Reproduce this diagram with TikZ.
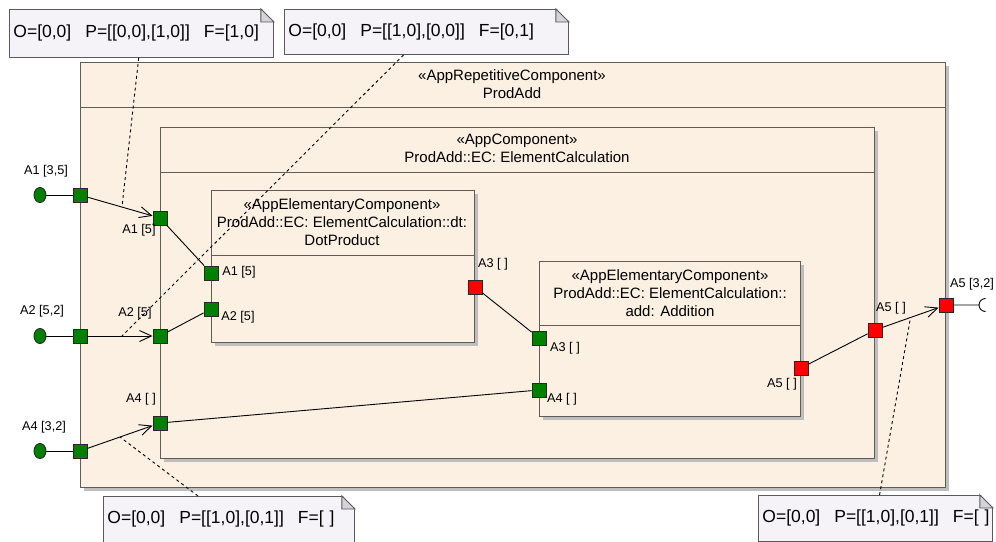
\documentclass[tikz,border=0pt]{standalone}
\usepackage{fontspec}
\setmainfont{Liberation Sans}
\usetikzlibrary{arrows.meta,shapes.geometric,shadows}

\definecolor{compfill}{RGB}{251,240,226}
\definecolor{compline}{RGB}{96,92,88}
\definecolor{notefill}{RGB}{245,243,248}
\definecolor{noteline}{RGB}{90,90,90}
\definecolor{foldgray}{RGB}{212,212,216}
\definecolor{shadowgray}{RGB}{190,190,190}
\definecolor{portgreen}{RGB}{0,128,0}
\definecolor{portred}{RGB}{255,0,0}
\definecolor{portline}{RGB}{40,40,40}
\newcommand\notegap{\hspace{14pt}}

\begin{document}
\begin{tikzpicture}[x=1pt,y=-1pt,line width=0.9pt,
    comp/.style={draw=compline, fill=compfill, anchor=north west, inner sep=0,
      drop shadow={shadow xshift=4pt, shadow yshift=-4pt, fill=shadowgray, opacity=1}},
    title/.style={align=center, font=\fontsize{15}{18}\selectfont, inner sep=0},
    lbl/.style={font=\fontsize{12.7}{14}\selectfont, inner sep=0},
    inport/.style={draw=portline, fill=portgreen, minimum size=14pt, inner sep=0},
    outport/.style={inport, fill=portred},
    lolli/.style={ellipse, draw=portline, fill=portgreen, minimum width=12pt, minimum height=15pt, inner sep=0},
    flow/.style={-{Straight Barb[length=12pt,width=11pt]}},
    note/.style={draw=noteline, fill=notefill, anchor=north west, align=left, inner xsep=4pt, inner ysep=0,
      font=\fontsize{17.5}{20}\selectfont},
    notelink/.style={dash pattern=on 3pt off 3pt}]
        \useasboundingbox (0,0) rectangle (996,541);
        % components
        \node[comp, minimum width=865pt, minimum height=425pt] (prodadd) at (80,62) {};
        \draw[compline] (80,107) -- (945,107);
        \node[title] (prodaddtitle) at (512,84) {«AppRepetitiveComponent»\\ProdAdd};
        \node[comp, minimum width=714pt, minimum height=331pt] (ec) at (160,127) {};
        \draw[compline] (160,172) -- (874,172);
        \node[title] (ectitle) at (517,148) {«AppComponent»\\ProdAdd::EC: ElementCalculation};
        \node[comp, minimum width=263pt, minimum height=152pt] (dt) at (211,190) {};
        \draw[compline] (211,255) -- (474,255);
        \node[title] (dttitle) at (342,222) {«AppElementaryComponent»\\ProdAdd::EC: ElementCalculation::dt:\\DotProduct};
        \node[comp, minimum width=261pt, minimum height=155pt] (add) at (539,261) {};
        \draw[compline] (539,325) -- (800,325);
        \node[title] (addtitle) at (670,293) {«AppElementaryComponent»\\ProdAdd::EC: ElementCalculation::\\add: Addition};
        % ports
        \node[lolli] (a1ext) at (40,195) {};
        \node[inport] (a1out) at (80,195) {};
        \node[inport] (a1in) at (160,218) {};
        \node[inport] (a1dt) at (211,273) {};
        \node[lolli] (a2ext) at (40,336) {};
        \node[inport] (a2out) at (80,336) {};
        \node[inport] (a2in) at (160,336) {};
        \node[inport] (a2dt) at (211,309) {};
        \node[outport] (a3dt) at (475,287) {};
        \node[inport] (a3add) at (539,338) {};
        \node[lolli] (a4ext) at (40,451) {};
        \node[inport] (a4out) at (80,451) {};
        \node[inport] (a4in) at (160,423) {};
        \node[inport] (a4add) at (539,390) {};
        \node[outport] (a5add) at (801,368) {};
        \node[outport] (a5in) at (875,330) {};
        \node[outport] (a5out) at (946,305) {};
        \coordinate (a5ext) at (979,305);
        % connectors
        \draw (a1ext) -- (a1out);
        \draw[flow] (a1out) -- coordinate[pos=0.53] (a1mid) (a1in);
        \draw (a1in) -- (a1dt);
        \draw (a2ext) -- (a2out);
        \draw[flow] (a2out) -- coordinate[pos=0.53] (a2mid) (a2in);
        \draw (a2in) -- (a2dt);
        \draw (a3dt) -- (a3add);
        \draw (a4ext) -- (a4out);
        \draw[flow] (a4out) -- coordinate[pos=0.5] (a4mid) (a4in);
        \draw (a4in) -- (a4add);
        \draw (a5add) -- (a5in);
        \draw[flow] (a5in) -- coordinate[pos=0.5] (a5mid) (a5out);
        \draw (a5out) -- (a5ext) arc[start angle=180, end angle=90, radius=6.5pt];
        \draw (a5ext) arc[start angle=180, end angle=270, radius=6.5pt];
        % port labels
        \node[lbl] (la1ext) at (46,171) {A1 [3,5]};
        \node[lbl] (la1in) at (139,230) {A1 [5]};
        \node[lbl] (la1dt) at (239,272) {A1 [5]};
        \node[lbl] (la2ext) at (42,311) {A2 [5,2]};
        \node[lbl] (la2in) at (135,313) {A2 [5]};
        \node[lbl] (la2dt) at (238,317) {A2 [5]};
        \node[lbl] (la3dt) at (493,264) {A3 [ ]};
        \node[lbl] (la3add) at (565,348) {A3 [ ]};
        \node[lbl] (la4ext) at (44,427) {A4 [3,2]};
        \node[lbl] (la4in) at (141,399) {A4 [ ]};
        \node[lbl] (la4add) at (562,399) {A4 [ ]};
        \node[lbl] (la5add) at (782,384) {A5 [ ]};
        \node[lbl] (la5in) at (891,308) {A5 [ ]};
        \node[lbl] (la5out) at (972,284) {A5 [3,2]};
        % notes
        \node[note, text width=256pt, minimum height=48pt] (n1) at (9,9)
            {\mbox{O=[0,0]\notegap P=[[0,0],[1,0]]\notegap F=[1,0]}};
        \node[note, text width=276pt, minimum height=45pt] (n2) at (284,9)
            {\mbox{O=[0,0]\notegap P=[[1,0],[0,0]]\notegap F=[0,1]}};
        \node[note, text width=243pt, minimum height=46pt] (n3) at (103,496)
            {\mbox{O=[0,0]\notegap P=[[1,0],[0,1]]\notegap F=[ ]}};
        \node[note, text width=226pt, minimum height=46pt] (n4) at (758,495)
            {\mbox{O=[0,0]\notegap P=[[1,0],[0,1]]\notegap F=[ ]}};
        \foreach \n in {n1,n2,n3,n4} {
            \fill[white] ([xshift=-13pt,yshift=1pt]\n.north east) -- ([xshift=1pt,yshift=1pt]\n.north east)
                -- ([xshift=1pt,yshift=-13pt]\n.north east) -- cycle;
            \filldraw[fill=foldgray, draw=noteline] ([xshift=-13pt]\n.north east) -- ([xshift=-13pt,yshift=-13pt]\n.north east)
                -- ([yshift=-13pt]\n.north east) -- cycle;
        }
        \draw[notelink] (n1) -- (a1mid);
        \draw[notelink] (n2) -- (a2mid);
        \draw[notelink] (n3) -- (a4mid);
        \draw[notelink] (n4) -- (a5mid);
\end{tikzpicture}
\end{document}
